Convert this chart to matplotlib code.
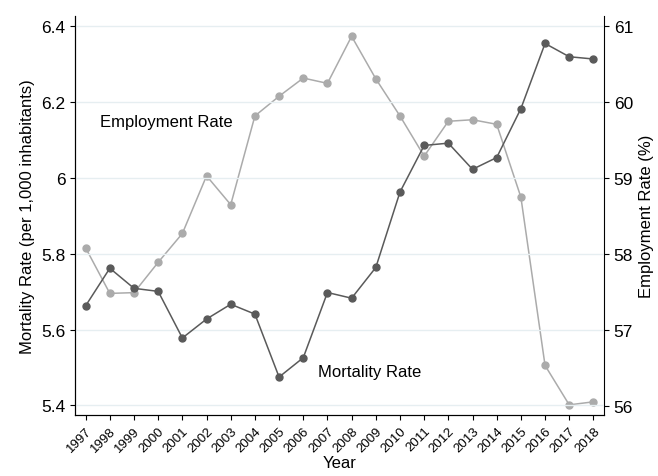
import numpy as np
import matplotlib
matplotlib.use("Agg")
import matplotlib.pyplot as plt

plt.rcParams['font.family'] = ['Liberation Sans', 'DejaVu Sans']

years = list(range(1997, 2019))
mortality = [5.663, 5.762, 5.709, 5.701, 5.578, 5.628, 5.667, 5.641, 5.475, 5.526, 5.698,
             5.683, 5.764, 5.963, 6.086, 6.092, 6.023, 6.054, 6.183, 6.355, 6.320, 6.314]
employment = [58.08, 57.48, 57.49, 57.89, 58.27, 59.03, 58.65, 59.82, 60.08, 60.32, 60.25,
              60.87, 60.31, 59.82, 59.29, 59.75, 59.77, 59.71, 58.75, 56.53, 56.01, 56.05]

dark = '#5a5a5a'
light = '#ababab'

fig = plt.figure(figsize=(6.58, 4.77), dpi=100)
ax = fig.add_axes([0.114, 0.128, 0.804, 0.836])
ax2 = ax.twinx()

ax.set_xlim(1996.56, 2018.44)
ax.set_ylim(5.375, 6.427)
ax2.set_ylim(55.877, 61.136)

ax.set_yticks([5.4, 5.6, 5.8, 6.0, 6.2, 6.4])
ax.set_yticklabels(['5.4', '5.6', '5.8', '6', '6.2', '6.4'])
ax2.set_yticks([56, 57, 58, 59, 60, 61])
ax.grid(axis='y', color='#e6eef1', lw=1)
ax.set_axisbelow(True)

ax2.plot(years, employment, '-o', color=light, ms=5, lw=1.1, zorder=2)
ax.plot(years, mortality, '-o', color=dark, ms=5, lw=1.1, zorder=3)
ax.set_zorder(ax2.get_zorder() + 1)
ax.patch.set_visible(False)

ax.set_xticks(years)
ax.set_xticklabels([str(y) for y in years], rotation=45, ha='right',
                   rotation_mode='anchor', fontsize=9.5)
ax.tick_params(axis='y', labelsize=12.5)
ax2.tick_params(axis='y', labelsize=12.5)

for a in (ax, ax2):
    a.spines['top'].set_visible(False)
ax.spines['right'].set_visible(False)

ax.set_xlabel('Year', fontsize=12, labelpad=1)
ax.set_ylabel('Mortality Rate (per 1,000 inhabitants)', fontsize=12)
ax2.set_ylabel('Employment Rate (%)', fontsize=12)

ax.text(1997.6, 6.15, 'Employment Rate', fontsize=12, va='center')
ax.text(2006.6, 5.49, 'Mortality Rate', fontsize=12, va='center')

fig.savefig('out.png', dpi=100)
